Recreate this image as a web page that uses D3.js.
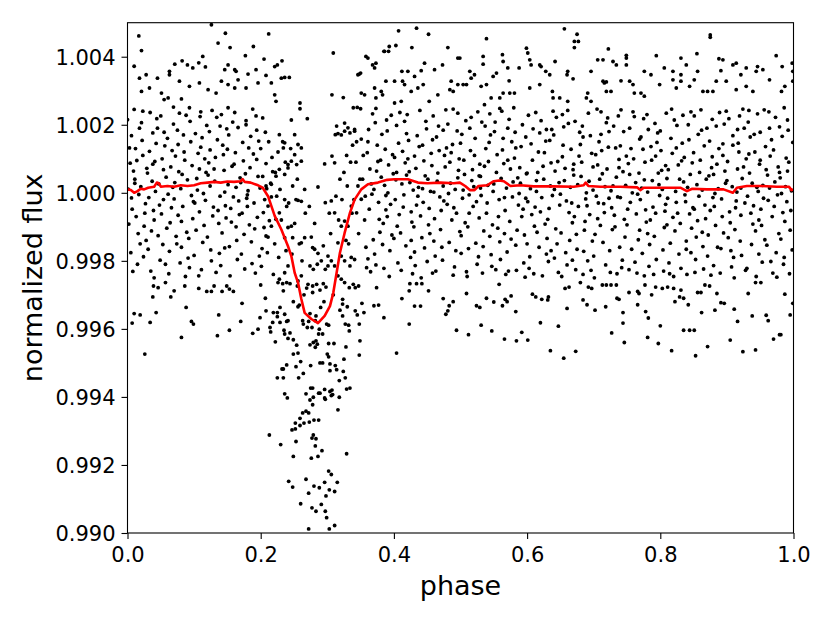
<!DOCTYPE html>
<html><head><meta charset="utf-8">
<script src="https://cdn.jsdelivr.net/npm/d3@7"></script>
<style>body{margin:0;background:#fff}svg{display:block}text{font-family:"DejaVu Sans",sans-serif}</style>
</head><body><svg id="c" width="830" height="622"></svg>
<script>
// values: [phase in 0.001, flux deviation from 1.0 in 1e-5]
const corePts = [
[3,132],[7,-48],[0,215],[5,-176],[9,64],[2,-92],[6,168],[1,11],[8,-231],[4,87],[6,-15],
[16,-120],[11,40],[18,190],[13,-70],[10,245],[19,-150],[14,95],[17,-5],[12,130],[15,-210],[11,28],
[29,72],[24,-188],[22,154],[27,-32],[21,206],[25,-98],[20,18],[28,-140],[23,110],[26,-60],[23,240],
[32,-14],[38,176],[35,-230],[30,58],[36,-112],[33,122],[39,-52],[34,236],[31,-166],[37,34],[38,84],
[45,190],[40,-80],[47,26],[49,-198],[43,145],[48,-36],[41,92],[46,-126],[44,218],[42,4],[40,-250],
[51,-62],[56,138],[53,-152],[58,46],[54,-20],[50,226],[57,-210],[52,100],[59,-104],[55,178],[54,68],
[68,16],[62,-238],[69,202],[64,-88],[67,124],[61,-4],[63,-172],[65,76],[60,160],[66,-44],[69,252],
[73,-128],[77,62],[70,-18],[75,184],[79,-206],[72,108],[76,-66],[71,30],[78,234],[74,-150],[76,142],
[86,96],[81,-160],[88,228],[83,-40],[80,12],[89,-116],[84,170],[87,-246],[82,54],[85,120],[81,-84],
[99,-26],[94,210],[92,-134],[97,80],[91,-192],[95,150],[90,38],[98,-76],[93,250],[96,-8],[93,-220],
[102,174],[108,-56],[105,8],[100,-184],[106,116],[103,-110],[109,224],[104,42],[101,-30],[107,-244],[108,70],
[115,-96],[110,134],[117,-22],[119,198],[113,-146],[118,60],[111,-226],[116,100],[114,-2],[112,162],[110,238],
[121,52],[126,-200],[123,180],[128,-68],[124,20],[120,-130],[127,242],[122,88],[129,-42],[125,-168],[124,126],
[138,-178],[132,104],[139,-10],[134,222],[137,-90],[131,34],[133,-234],[135,156],[130,70],[136,-52],[139,196],
[143,140],[147,-38],[140,-214],[145,66],[149,188],[142,-118],[146,2],[141,230],[148,-74],[144,112],[146,-162],
[156,-86],[151,24],[158,208],[153,-158],[150,128],[159,-12],[154,-244],[157,78],[152,170],[155,-46],[151,250],
[169,44],[164,-140],[162,118],[167,-24],[161,236],[165,-196],[160,84],[168,-64],[163,16],[166,192],[163,-100],
[172,-60],[178,200],[175,-122],[170,30],[176,-224],[173,148],[179,-16],[174,94],[171,-180],[177,56],[178,212],
[185,166],[180,-6],[187,-208],[189,114],[183,-94],[188,246],[181,6],[186,-144],[184,74],[182,132],[180,-40],
[191,-106],[196,48],[193,226],[198,-186],[194,98],[190,-30],[197,152],[192,-236],[199,14],[195,-72],[194,184],
[208,86],[202,-164],[209,12],[204,-58],[207,178],[201,-216],[203,48],[205,-102],[200,130],[206,-20],
[213,-82],[217,104],[210,-176],[215,28],[219,-240],[212,150],[216,-12],[211,-130],[218,62],
[356,-80],[351,158],[358,-160],[353,40],[359,-220],[354,110],[357,-10],
[366,26],[361,-194],[368,232],[363,-48],[360,118],[369,-138],[364,70],[367,-4],[362,186],[365,-232],[361,150],
[379,-116],[374,64],[372,206],[377,-28],[371,-180],[375,140],[370,10],[378,-78],[373,248],[376,92],[373,-212],
[382,172],[388,-50],[385,-222],[380,96],[386,22],[383,-152],[389,214],[384,-90],[381,46],[387,128],[388,-8],
[395,-34],[390,182],[397,-124],[399,56],[393,-246],[398,112],[391,0],[396,228],[394,-170],[392,82],[390,-70],
[401,104],[406,-206],[403,38],[408,-64],[404,198],[400,-134],[407,146],[402,-20],[409,236],[405,-98],[404,60],
[418,-156],[412,26],[419,174],[414,-42],[417,88],[411,-228],[413,122],[415,-6],[410,-118],[416,210],[419,52],
[423,62],[427,-86],[420,230],[425,-190],[429,8],[422,154],[426,-56],[421,100],[428,-238],[424,30],[426,-140],
[436,-10],[431,-174],[438,136],[433,72],[430,-100],[439,242],[434,-36],[437,16],[432,-214],[435,168],[431,108],
[449,188],[444,-28],[442,-132],[447,50],[441,-250],[445,94],[440,-68],[448,210],[443,12],[446,-162],[443,140],
[452,-94],[458,156],[455,4],[450,-202],[456,116],[453,-46],[459,226],[454,-120],[451,40],[457,80],[458,-236],
[465,34],[460,-142],[467,196],[469,-12],[463,-230],[468,124],[461,-76],[466,58],[464,164],[462,-186],[460,2],
[471,-52],[476,110],[473,-198],[478,244],[474,20],[470,-108],[477,76],[472,-160],[479,132],[475,-24],[474,184],
[488,142],[482,-2],[489,-242],[484,90],[487,-80],[481,202],[483,-146],[485,28],[480,-34],[486,118],[489,246],
[493,-170],[497,66],[490,-44],[495,182],[499,-114],[492,10],[496,234],[491,-218],[498,100],[494,-60],[496,44],
[506,54],[501,-126],[508,212],[503,-16],[500,146],[509,-232],[504,8],[507,-88],[502,172],[505,96],[501,-178],
[519,-40],[514,190],[512,-164],[517,36],[511,-100],[515,124],[510,-246],[518,68],[513,-6],[516,222],[513,-60],
[522,160],[528,-74],[525,-210],[520,18],[526,238],[523,-148],[529,84],[524,-26],[521,110],[527,-188],[528,50],
[535,-112],[530,48],[537,196],[539,-60],[533,-236],[538,130],[531,-8],[536,78],[534,-158],[532,208],[530,14],
[541,22],[546,-182],[543,148],[548,-94],[544,232],[540,-30],[547,-216],[542,92],[549,4],[545,170],[544,-128],
[558,-20],[552,208],[559,-144],[554,60],[557,-70],[551,180],[553,-226],[555,112],[550,26],[556,-104],[559,248],
[563,126],[567,-52],[560,-196],[565,86],[569,14],[562,240],[566,-120],[561,42],[568,-240],[564,160],[566,-14],
[576,-136],[571,96],[578,-12],[573,216],[570,-174],[579,32],[574,-84],[577,150],[572,-230],[575,70],[571,190],
[589,74],[584,-228],[582,178],[587,-36],[581,102],[585,-110],[580,250],[588,-2],[583,-154],[586,44],[583,132],
[592,-70],[598,164],[595,-206],[590,28],[596,-124],[593,200],[599,56],[594,-48],[591,136],[597,-248],[598,-16],
[605,12],[600,-150],[607,-64],[609,188],[603,-222],[608,96],[601,-26],[606,144],[604,-188],[602,228],[600,58],
[611,-98],[616,60],[613,236],[618,-160],[614,4],[610,-238],[617,120],[612,-42],[619,176],[615,-116],[614,36],
[628,152],[622,-14],[629,-180],[624,78],[627,-92],[621,212],[623,-244],[625,40],[620,-56],[626,118],[629,186],
[633,-46],[637,186],[630,-134],[635,20],[639,240],[632,-202],[636,88],[631,-78],[638,-8],[634,154],[636,-170],
[646,92],[641,-192],[648,30],[643,-106],[640,170],[649,-36],[644,222],[647,-234],[642,64],[645,-150],[641,10],
[659,-24],[654,140],[652,-246],[657,72],[651,-118],[655,194],[650,-4],[658,-176],[653,106],[656,36],[653,230],
[662,204],[668,-88],[665,16],[660,-212],[666,128],[663,-58],[669,68],[664,-140],[661,242],[667,-30],[668,-198],
[675,-166],[670,52],[677,-40],[679,178],[673,-226],[678,108],[671,-70],[676,24],[674,-122],[672,210],[670,84],
[681,48],[686,-110],[683,196],[688,-18],[684,-240],[680,142],[687,-84],[682,90],[689,0],[685,-172],[684,164],
[698,-142],[692,234],[699,8],[694,-64],[697,116],[691,-200],[693,34],[695,168],[690,-38],[696,-228],[699,76],
[703,112],[707,-30],[700,-186],[705,246],[709,40],[702,-122],[706,82],[701,-250],[708,150],[704,-10],[706,-76],
[716,-58],[711,172],[718,-212],[713,56],[710,-96],[719,206],[714,-146],[717,18],[712,124],[715,-32],[711,238],
[729,20],[724,-170],[722,134],[727,-44],[721,220],[725,-234],[720,70],[728,-108],[723,180],[726,6],[723,-16],
[732,-100],[738,74],[735,-238],[730,196],[736,-12],[733,132],[739,-160],[734,46],[731,-66],[737,226],[738,98],
[745,180],[740,-14],[747,-130],[749,108],[743,-198],[748,22],[741,244],[746,-78],[744,62],[742,-220],[740,138],
[751,-48],[756,130],[753,-226],[758,0],[754,190],[750,-94],[757,-166],[752,86],[759,238],[755,-28],[754,54],
[768,58],[762,-204],[769,158],[764,-62],[767,-138],[761,224],[763,30],[765,-236],[760,100],[766,-4],[769,-110],
[773,-178],[777,90],[770,-20],[775,218],[779,-86],[772,14],[776,-244],[771,164],[778,-50],[774,128],[776,38],
[786,136],[781,-120],[788,36],[783,-216],[780,230],[789,-42],[784,-152],[787,96],[782,186],[785,-80],[781,2],
[799,-8],[794,-196],[792,204],[797,58],[791,-128],[795,148],[790,-240],[798,24],[793,-60],[796,176],[793,108],
[802,66],[808,-34],[805,-230],[800,182],[806,-102],[803,10],[809,234],[804,-168],[801,124],[807,-54],[808,80],
[815,-148],[810,42],[817,246],[819,-72],[813,-206],[818,116],[811,-16],[816,160],[814,-238],[812,68],[810,-94],
[821,214],[826,-60],[823,4],[828,-180],[824,132],[820,-246],[827,82],[822,-112],[829,40],[825,198],[824,-28],
[838,-26],[832,94],[839,-166],[834,228],[837,-6],[831,-222],[833,146],[835,32],[830,-90],[836,104],[839,-142],
[843,156],[847,-104],[840,-240],[845,54],[849,-44],[842,200],[846,-176],[841,16],[848,88],[844,-62],[846,238],
[856,-82],[851,226],[858,-10],[853,-196],[850,118],[859,60],[854,-130],[857,172],[852,-234],[855,24],[851,-48],
[869,40],[864,-158],[862,184],[867,-36],[861,244],[865,-224],[860,96],[868,-76],[863,8],[866,138],[863,-116],
[872,-124],[878,106],[875,-52],[870,190],[876,-242],[873,50],[879,-14],[874,152],[871,-186],[877,74],[878,216],
[885,84],[880,-214],[887,12],[889,236],[883,-96],[888,130],[881,-40],[886,-160],[884,196],[882,-2],[880,54],
[891,-164],[896,202],[893,-70],[898,28],[894,144],[890,-236],[897,64],[892,-18],[899,240],[895,-118],[894,110],
[908,18],[902,-132],[909,168],[904,-56],[907,-218],[901,92],[903,218],[905,-88],[900,36],[906,-170],[909,140],
[913,-44],[917,146],[910,-190],[915,2],[919,226],[912,-108],[916,70],[911,-250],[918,120],[914,-24],[916,186],
[926,190],[921,-66],[928,-228],[923,42],[920,-142],[929,100],[924,246],[927,-30],[922,-184],[925,76],[921,14],
[939,-92],[934,58],[932,208],[937,-152],[931,-10],[935,164],[930,-222],[938,28],[933,114],[936,-60],[933,242],
[942,120],[948,-180],[945,16],[940,-38],[946,232],[943,-112],[949,84],[944,-246],[941,172],[947,4],[948,-80],
[955,-16],[950,178],[957,-138],[959,68],[953,-204],[958,136],[951,-48],[956,244],[954,22],[952,-96],[950,96],
[961,52],[966,-202],[963,238],[968,-70],[964,14],[960,-154],[967,156],[962,-22],[969,-236],[965,108],[964,190],
[978,-120],[972,32],[979,194],[974,-176],[977,76],[971,-40],[973,222],[975,-248],[970,126],[976,-6],[979,60],
[983,166],[987,-84],[980,44],[985,-210],[989,102],[982,-2],[986,250],[981,-136],[988,18],[984,-58],[986,-190],
[996,-52],[991,214],[998,-168],[993,90],[990,-26],[999,148],[994,-238],[997,6],[992,184],[995,-110],[991,64]
];
const highPts = [
[17,461],[21,418],[126,494],[147,469],[212,467],[136,440],[154,427],[189,430],[177,403],[205,393],[10,372],[71,378],[82,388],[113,401],[107,382],[117,370],[90,376],[98,367],[63,357],[63,347],[28,347],[18,337],[45,337],[33,308],[21,298],[51,293],[55,274],[61,279],[81,276],[78,328],[93,313],[108,323],[121,303],[133,293],[141,328],[146,362],[151,376],[161,362],[163,357],[178,308],[196,323],[208,345],[216,323],[221,371],[225,376],[232,388],[236,339],[243,339],[231,337],[223,269],[221,288],[151,318],[161,308],[166,332],[181,349],[193,362],
[309,411],[348,349],[346,347],[358,401],[361,396],[368,376],[373,381],[371,367],[386,416],[393,430],[403,433],[407,476],[434,484],[452,466],[427,427],[392,416],[385,416],[446,381],[441,359],[431,342],[421,357],[412,357],[473,376],[481,427],[496,396],[486,328],[484,303],[489,298],[496,318],[461,362],[444,318],[401,328],[413,328],[416,318],[388,328],[381,298],[371,308],[383,288],[373,279],[351,293],[356,288],[401,264],[411,269],[426,298],[436,308],[453,269],[466,288],[307,288],
[499,396],[539,453],[534,401],[534,378],[563,406],[564,386],[514,357],[521,347],[516,337],[504,318],[509,318],[531,313],[539,318],[549,342],[554,352],[571,367],[599,425],[601,411],[604,391],[606,376],[619,376],[621,371],[628,357],[634,347],[588,367],[573,329],[604,308],[619,318],[638,298],[642,386],[656,482],[675,466],[671,445],[677,445],[671,427],[661,357],[660,347],[669,335],[696,357],[706,391],[714,391],[722,423],[729,386],[734,376],[749,404],[749,396],[741,329],[714,328],[719,326],[719,298],[726,298],[749,376],[776,357],[786,347],[794,403],[806,367],[819,357],[831,396],[839,376],[831,347],[831,328],[819,332],[799,318],[824,308],[855,409],[856,357],[851,332],[844,313],[864,298],[871,298],[879,298],[875,464],[875,457],[888,394],[894,391],[891,359],[909,376],[914,381],[921,347],[929,367],[946,371],[954,362],[944,357],[929,313],[939,298],[974,403],[983,371],[998,381],[999,357],[999,328],[964,332],[987,313],[982,298],[899,328],[914,303],[884,328],[761,293],[771,293],[776,284],[754,328],[759,318],[716,323],[691,293],[689,279],[696,269],[661,269],[649,279],[639,279],[574,293],[581,293],[564,293],[559,279],[546,279],[536,259]
];
const lowPts = [
[7,-383],[10,-355],[19,-359],[26,-474],[34,-381],[38,-306],[43,-352],[39,-274],[46,-279],[65,-306],[70,-288],[57,-264],[81,-425],[88,-337],[86,-274],[96,-378],[99,-386],[107,-281],[119,-290],[126,-290],[130,-274],[142,-290],[149,-274],[153,-283],[159,-290],[135,-420],[137,-359],[153,-404],[170,-378],[172,-325],[188,-413],[196,-401],[199,-367],[207,-310],[208,-347],[200,-271],
[349,-435],[348,-386],[352,-325],[355,-352],[370,-332],[377,-330],[385,-367],[374,-279],[404,-471],[412,-311],[423,-386],[424,-267],[434,-267],[442,-267],[431,-333],[440,-333],[423,-288],[452,-288],[474,-311],[483,-332],[489,-320],[478,-357],[481,-347],[494,-404],[509,-296],[512,-417],[524,-332],[529,-337],[531,-389],[539,-310],[550,-321],[547,-406],[558,-269],[567,-313],[570,-320],[563,-332],[576,-303],[583,-349],[566,-430],[584,-435],[592,-410],[601,-433],[608,-298],[613,-306],[622,-313],[632,-306],[631,-315],[620,-382],[635,-464],[647,-392],[655,-486],[657,-281],[663,-277],[660,-340],[673,-466],[680,-264],[684,-315],[690,-329],[692,-277],[697,-281],[702,-345],[713,-271],[719,-271],[726,-271],[734,-271],[735,-310],[738,-313],[718,-335],[727,-412],[744,-352],[744,-383],[746,-440],[753,-293],[766,-290],[768,-296],[766,-329],[777,-271],[778,-349],[782,-368],[781,-425],[787,-300],[793,-277],[803,-281],[811,-277],[820,-281],[831,-286],[800,-391],[797,-443],[817,-464],[822,-320],[829,-306],[835,-310],[842,-329],[835,-404],[844,-404],[851,-404],[853,-479],[856,-293],[861,-293],[862,-352],[871,-452],[867,-271],[874,-274],[882,-345],[891,-323],[896,-325],[885,-296],[905,-433],[911,-342],[916,-378],[924,-467],[932,-296],[938,-362],[943,-462],[943,-264],[951,-264],[959,-360],[962,-376],[970,-430],[979,-417],[981,-417],[987,-298],[995,-359],[999,-325]
];
const dipPts = [
[236,-591],[240,-603],[268,-591],[275,-574],[278,-574],[287,-589],[289,-589],[296,-578],[304,-584],[308,-593],[307,-580],[296,-603],[297,-607],[306,-596],[318,-601],[316,-638],[329,-577],[334,-574],[279,-601],[274,-609],[278,-623],[263,-647],[268,-642],[272,-647],[259,-663],[252,-677],[247,-697],[252,-694],[259,-684],[265,-677],[273,-674],[280,-668],[287,-668],[213,-712],[230,-740],[253,-731],[279,-712],[277,-721],[283,-723],[282,-744],[292,-758],[249,-775],[276,-780],[286,-775],[329,-767],[302,-818],[306,-828],[242,-848],[248,-865],[268,-842],[280,-862],[288,-867],[296,-851],[303,-873],[311,-878],[315,-851],[272,-883],[298,-891],[260,-914],[277,-926],[283,-936],[291,-916],[297,-936],[299,-955],[272,-988],[303,-988],[311,-978],
[229,-337],[249,-320],[256,-335],[219,-352],[225,-364],[218,-381],[229,-381],[239,-378],[241,-376],[215,-409],[222,-438],[235,-404],[236,-415],[244,-412],[241,-428],[249,-432],[254,-448],[249,-474],[256,-471],[260,-496],[253,-511],[239,-506],[234,-518],[232,-518],[225,-544],[234,-544],[257,-544],[264,-531],[275,-508],[274,-447],[279,-440],[283,-435],[285,-445],[282,-454],[287,-415],[288,-401],[293,-415],[299,-386],[302,-389],[302,-443],[310,-443],[300,-474],[302,-482],[289,-500],[293,-500],[304,-503],[312,-508],[304,-523],[314,-520],[324,-525],[318,-552],[327,-544],[325,-489],[328,-453],[348,-477],[332,-389],[327,-386],[333,-406],[323,-362],[319,-345],[330,-335],[342,-347],[345,-359],[323,-327],[290,-337],[283,-362],[274,-355],[272,-378],[282,-376],[264,-386],[263,-376],[270,-396],[277,-396],[236,-357],[225,-352],[214,-396],
[226,-264],[233,-267],[239,-264],[244,-267],[255,-274],[271,-269],[278,-274],[284,-269],[294,-267],[298,-277],[289,-286],[278,-293],[265,-300],[234,-288],[323,-313],[333,-279],[342,-279],[347,-274],[326,-264],[339,-269],
[286,17],[297,-29],[253,-20],[261,-25],[256,-22],[241,-102],[246,-98],[248,-132],[236,-132],[266,-132],[261,-147],[278,-161],[281,-166],[286,-178],[294,-156],[301,-186],[306,-200],[301,-215],[297,-225],[274,-215],[279,-225],[261,-244],[256,-259],[241,-215],[236,-235],[228,-254],[321,-186],[326,-200],[334,-215],[341,-196],[316,-147],[321,-98],[326,-83],[331,-98],[311,-215],[316,-244],[321,-254],[336,-39],[344,-59],[351,-19],[346,20],[306,-24],[311,-59],[228,-59],[236,-20],[223,-78],[211,-39],[216,-98],[208,-127],[208,20],[216,25],[223,49],[228,69],[236,54],[241,73],
[246,214],[259,247],[259,264],[270,218],[251,171],[256,142],[261,132],[251,112],[261,93],[254,83],[246,93],[241,83],[234,132],[236,147],[228,171],[203,220],
[314,196],[312,171],[307,108],[296,85],[311,88],[316,174],[321,170],[326,181],[334,176],[341,181],[326,205],[331,191],[341,186],[350,352],[345,251],[350,247],
[221,-150],[224,-10],[226,120],[227,-190],[222,60],[229,10],[231,-80],[233,150],[238,-170],[237,90],[239,-40],[242,-30],[245,130],[247,-180],[248,20],[258,-150],[251,-90],[255,40],[258,-330],[262,-200],[267,-60],[269,-280],[266,10],[276,-130],[273,-40],[285,-210],[281,-90],[291,-200],[295,-320],[305,-120],[309,-300],[303,-60],[313,-10],[317,-80],[319,40],[322,-20],[325,60],[328,-140],[329,110],[324,280],[330,20],[332,-150],[335,90],[337,-60],[338,140],[339,250],[336,-190],[343,90],[347,-120],[349,40],[340,-20],[344,150]
];
// red curve: phase and flux deviation (1e-5)
const linePhase = [0,0.005,0.010,0.015,0.020,0.025,0.031,0.040,0.044,0.047,0.050,0.060,0.070,0.080,0.090,0.100,0.110,0.120,0.130,0.140,0.150,0.160,0.170,0.173,0.176,0.185,0.196,0.203,0.211,0.221,0.231,0.241,0.246,0.251,0.256,0.261,0.266,0.276,0.286,0.296,0.304,0.309,0.314,0.319,0.326,0.334,0.341,0.351,0.361,0.376,0.390,0.401,0.421,0.436,0.450,0.470,0.490,0.499,0.507,0.514,0.521,0.527,0.540,0.550,0.558,0.565,0.575,0.590,0.610,0.640,0.670,0.685,0.688,0.692,0.710,0.740,0.765,0.770,0.775,0.800,0.830,0.840,0.848,0.870,0.895,0.909,0.915,0.930,0.950,0.975,0.993,0.997,1.000];
const lineFlux = [10,8,0,5,12,10,15,18,30,28,18,20,18,22,20,22,28,30,32,30,33,32,34,40,32,30,22,15,-10,-68,-108,-157,-186,-235,-264,-312,-353,-371,-383,-362,-333,-294,-235,-176,-118,-59,-20,10,25,30,38,40,40,30,28,30,28,30,20,8,8,20,22,34,36,34,20,22,19,19,18,22,30,20,18,18,16,8,15,15,15,5,12,10,10,0,15,20,20,18,18,8,10];
const xTicks = [0,0.2,0.4,0.6,0.8,1.0];
const yTicks = [0.990,0.992,0.994,0.996,0.998,1.000,1.002,1.004];

const svg = d3.select("#c");
const L=127.5,R=793.5,T=22.7,B=533;
const x = d3.scaleLinear().domain([0,1]).range([L,R]);
const y = d3.scaleLinear().domain([0.990,1.005]).range([B,T]);
const toP = d => ({p:d[0]/1000, f:1+d[1]/1e5});
const pts = [].concat(corePts,highPts,lowPts,dipPts).map(toP);

svg.append("defs").append("clipPath").attr("id","clip").append("rect")
  .attr("x",L).attr("y",T).attr("width",R-L).attr("height",B-T);
const g = svg.append("g").attr("clip-path","url(#clip)");
g.selectAll("circle").data(pts).enter().append("circle")
  .attr("cx",d=>x(d.p)).attr("cy",d=>y(d.f)).attr("r",1.9).attr("fill","#000");
const lineData = linePhase.map((p,i)=>({p, f:1+lineFlux[i]/1e5}));
g.append("path").datum(lineData)
  .attr("d", d3.line().x(d=>x(d.p)).y(d=>y(d.f)))
  .attr("fill","none").attr("stroke","#ff0000").attr("stroke-width",2.6).attr("stroke-linejoin","round");

const xa = svg.append("g").attr("transform",`translate(0,${B})`)
  .call(d3.axisBottom(x).tickValues(xTicks).tickFormat(d3.format(".1f")).tickSize(6).tickSizeOuter(0));
const ya = svg.append("g").attr("transform",`translate(${L},0)`)
  .call(d3.axisLeft(y).tickValues(yTicks).tickFormat(d3.format(".3f")).tickSize(6).tickSizeOuter(0));
[xa,ya].forEach(a=>{a.select(".domain").remove();a.selectAll("line").attr("stroke","#000").attr("stroke-width",1.1);
  a.selectAll("text").attr("fill","#000").style("font-size","21px").style("font-family","DejaVu Sans");});
xa.selectAll("text").attr("dy",null).attr("y",29);
ya.selectAll("text").attr("x",-12).attr("dy","0.36em");

svg.append("rect").attr("x",L).attr("y",T).attr("width",R-L).attr("height",B-T)
  .attr("fill","none").attr("stroke","#000").attr("stroke-width",1.1);
svg.append("text").attr("x",(L+R)/2).attr("y",595).attr("text-anchor","middle")
  .style("font-size","27px").text("phase");
svg.append("text").attr("transform",`translate(42,${(T+B)/2}) rotate(-90)`).attr("text-anchor","middle")
  .style("font-size","27px").text("normalized flux");
</script></body></html>
